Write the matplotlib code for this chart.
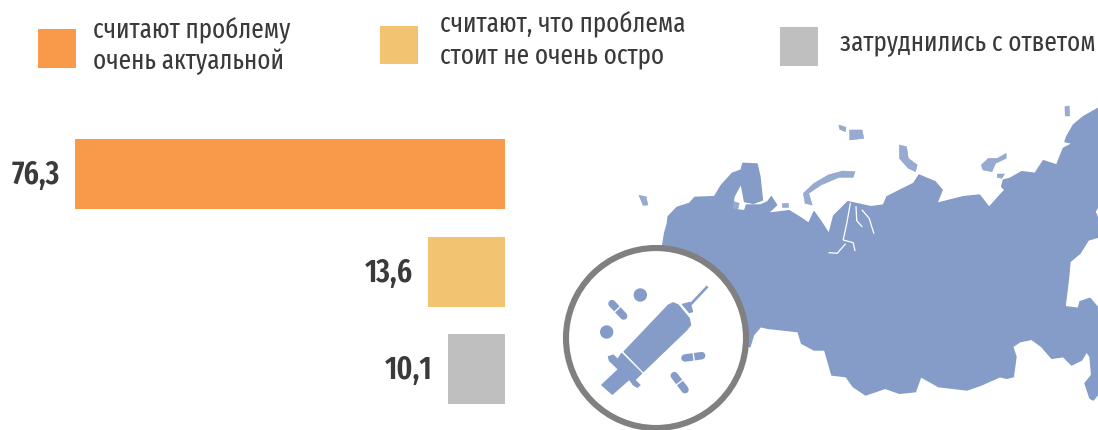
import numpy as np
import matplotlib
matplotlib.use("Agg")
import matplotlib.pyplot as plt
from matplotlib.patches import Polygon, Circle, Rectangle
from matplotlib import font_manager as fm

names = {f.name for f in fm.fontManager.ttflist}
FONT = [n for n in ['Fira Sans Extra Condensed', 'Sofia Sans Extra Condensed', 'PT Sans Narrow', 'Roboto Condensed', 'Liberation Sans'] if n in names][:1]

categories = ["считают проблему\nочень актуальной", "считают, что проблема\nстоит не очень остро", "затруднились с ответом"]
values = [76.3, 13.6, 10.1]
value_labels = ["76,3", "13,6", "10,1"]
colors = ["#F99A4B", "#F2C370", "#BFBFBF"]
BLUE = "#849CC7"
TEXT = "#3A3A3A"

fig = plt.figure(figsize=(10.98, 4.30), dpi=100, facecolor="white")
bg = fig.add_axes([0, 0, 1, 1])
bg.set_xlim(0, 1098)
bg.set_ylim(430, 0)
bg.axis("off")

def z1(pts):
    a = np.array(pts, float)
    return np.c_[540 + a[:, 0] / 2.81, 90 + a[:, 1] / 3]

def z3(pts):
    a = np.array(pts, float)
    return np.c_[1000 + a[:, 0] / 3, 90 + a[:, 1] / 3]

def z2(pts):
    a = np.array(pts, float)
    return np.c_[550 + a[:, 0] / 3, 240 + a[:, 1] / 3]

west_top = [(345,600),(345,465),(350,430),(358,400),(360,380),(385,352),(420,340),(435,322),(490,320),(510,285),
            (540,250),(565,240),(570,220),(610,222),(618,260),(625,330),(600,340),(575,335),(565,280),(545,320),
            (540,358),(575,362),(580,345),(620,345),(640,335),(650,320),(665,345),(640,370),(700,362),(735,385),
            (755,400),(770,365),(790,395),(812,432),(825,378),(865,335),(930,350),(965,345),(975,320),(1050,280),
            (1065,255),(1110,275),(1130,300),(1115,340),(1190,320),(1235,315),(1262,352),(1293,315)]
east = [(15,300),(5,290),(10,270),(30,265),(65,245),(105,250),(130,212),(170,225),(190,175),(218,160),(195,155),
        (200,140),(220,105),(250,80),(294,55),(300,55),(300,340),(285,365),(300,400),(300,440),(265,450),(240,490),
        (210,515),(205,570),(195,650),(235,655),(240,635),(270,625),(300,660),(300,905),(280,930),(270,925),(255,880),
        (275,855),(270,800),(260,785),(245,810),(215,825),(190,800),(155,805),(125,770),(95,748),(60,755),(38,770),
        (48,800),(40,860),(20,865),(0,860)]
west_bottom = [(1240,885),(1200,900),(1120,890),(1070,860),(1055,905),(1010,910),(970,895),(915,915),(880,890),
               (860,860),(820,855),(800,780),(770,780),(735,760),(725,725),(640,715),(620,710),(600,735),(590,770),(500,770)]
bg.add_patch(Polygon(np.vstack([z1(west_top), z3(east), z1(west_bottom)]), closed=True, fc=BLUE, ec=BLUE, lw=1.0, joinstyle="round"))

islands = [
    [(885,245),(850,243),(810,255),(770,280),(740,310),(745,340),(765,345),(755,310),(790,285),(840,262),(880,262)],
    [(1010,165),(1030,170),(1035,205),(1060,225),(1055,245),(1035,235),(1010,205)],
    [(1240,225),(1260,205),(1285,205),(1310,190),(1310,205),(1280,220),(1270,245),(1245,240)],
    [(278,316),(298,320),(303,345),(290,346)],
    [(1475,50),(1487,48),(1488,78),(1476,78)],
    [(1285,252),(1305,252),(1298,265),(1285,262)],
    [(840,105),(860,112),(858,125),(842,118)],
    [(870,120),(905,120),(910,145),(870,150)],
    [(545,335),(560,340),(555,360),(542,358)],
    [(680,338),(698,338),(698,350),(680,350)],
    [(1095,350),(1115,345),(1105,365),(1092,362)],
]
for isl in islands:
    bg.add_patch(Polygon(z1(isl), closed=True, fc=BLUE, ec=BLUE, lw=0.4, alpha=0.85, joinstyle="round"))

rivers = [
    [(872,340),(862,400),(852,450),(880,458),(885,482)],
    [(812,488),(835,490),(858,462)],
    [(888,350),(890,392),(905,410)],
    [(905,360),(925,385),(938,430)],
]
for r in rivers:
    p = z1(r)
    bg.plot(p[:, 0], p[:, 1], color="white", lw=0.9, solid_capstyle="round")

bg.add_patch(Circle((656, 338), 90, fc="white", ec="#808080", lw=4.4, zorder=5))

syr = [
    [(222,335),(355,195),(370,188),(385,195),(418,235),(422,255),(410,270),(280,395)],
    [(175,350),(190,345),(203,358),(215,340),(275,400),(255,420),(270,435),(262,442),(250,435),(238,418),(187,463),(155,435),(205,388),(178,362)],
    [(397,193),(420,187),(428,215),(418,218)],
]
for s in syr:
    bg.add_patch(Polygon(z2(s), closed=True, fc=BLUE, ec=BLUE, lw=0.8, joinstyle="round", zorder=6))
needle = z2([(420,195),(470,142)])
bg.plot(needle[:, 0], needle[:, 1], color=BLUE, lw=1.9, zorder=6)
for c in [(271,165),(170,276)]:
    x, y = z2([c])[0]
    bg.add_patch(Circle((x, y), 6.7, fc=BLUE, ec="none", zorder=6))

pills = [((186,191),(221,228),(201,209)), ((405,354),(455,347),(431,350)), ((373,407),(405,449),(388,428))]
for a, b, m in pills:
    p = z2([a, b])
    bg.plot(p[:, 0], p[:, 1], color=BLUE, lw=5.4, solid_capstyle="round", zorder=6)
    d = np.array(b, float) - np.array(a, float)
    d = d / np.hypot(*d)
    n = np.array([-d[1], d[0]]) * 16
    g = z2([np.array(m) - n, np.array(m) + n])
    bg.plot(g[:, 0], g[:, 1], color="white", lw=1.0, zorder=7)

# legend
swatches = [(38, 29, 38, 39), (380, 26, 38, 38), (780, 27, 38, 39)]
for (x, y, w, h), c in zip(swatches, colors):
    bg.add_patch(Rectangle((x, y), w, h, fc=c, ec="none"))
text_pos = [(93, 46), (440, 40), (840, 43)]
for (x, y), t in zip(text_pos, categories):
    bg.text(x, y, t, fontsize=19.6, family=FONT, fontweight="normal", color=TEXT, va="center", ha="left", linespacing=1.2)

# bars
ax = fig.add_axes([75 / 1098, 0, 430 / 1098, 1])
ax.patch.set_alpha(0)
ax.axis("off")
pitch = 97.5
ax.set_xlim(values[0], 0)
ax.set_ylim((430 - 174) / pitch, -174 / pitch)
bars = ax.barh(range(3), values, height=70 / pitch, color=colors)
for bar, lab in zip(bars, value_labels):
    ax.annotate(lab, (bar.get_width(), bar.get_y() + bar.get_height() / 2), xytext=(-11, -1),
                textcoords="offset points", ha="right", va="center", fontsize=23,
                fontweight="semibold", family=FONT, color=TEXT)

fig.savefig("out.png", dpi=100)
